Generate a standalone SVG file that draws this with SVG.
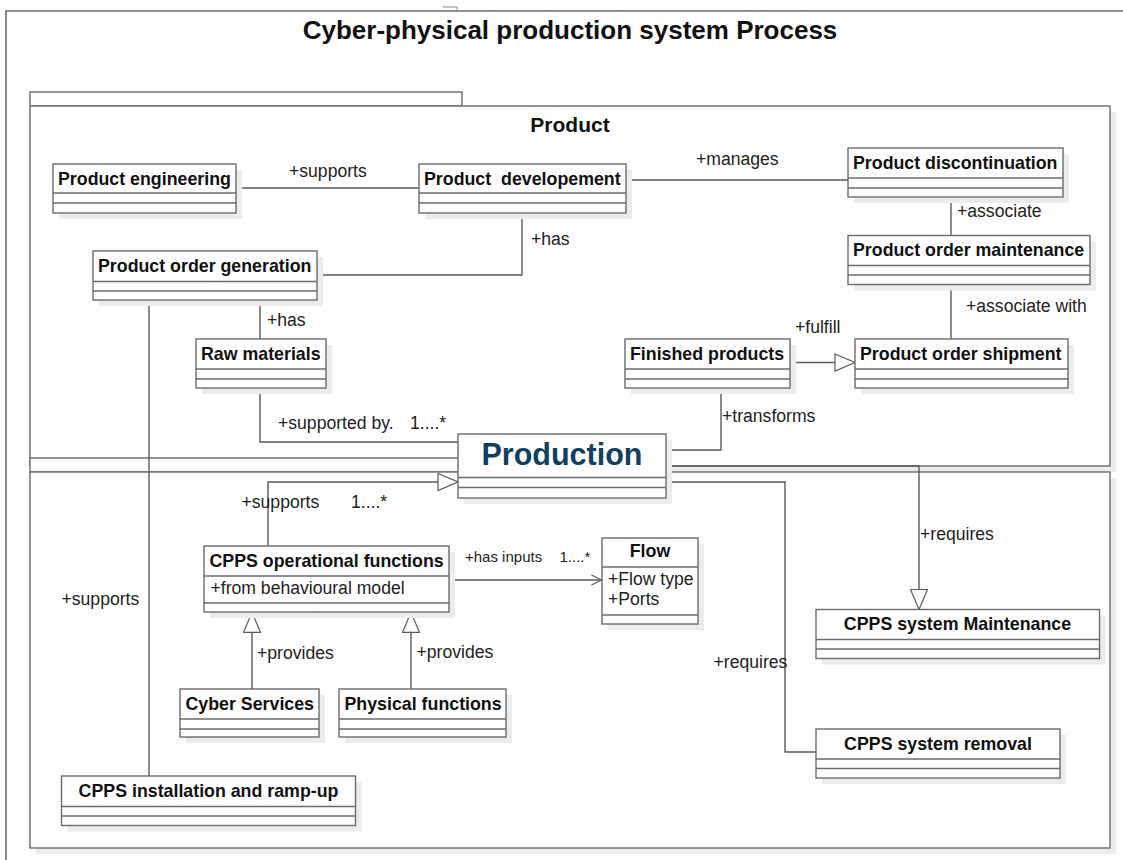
<svg xmlns="http://www.w3.org/2000/svg" width="1123" height="860" viewBox="0 0 1123 860">
<style>
.bg{fill:#fff}
.sh{fill:#ececec}
.box{fill:#fff;stroke:#6b6b6b;stroke-width:1.4}
.div{stroke:#6b6b6b;stroke-width:1.4}
.t{font-family:"Liberation Sans",Arial,sans-serif;font-weight:bold;font-size:17.8px;fill:#111}
.c{text-anchor:middle}
.lbl{font-family:"Liberation Sans",Arial,sans-serif;font-size:17.6px;fill:#222}
.sm{font-size:15px}
.con{fill:none;stroke:#5a5a5a;stroke-width:1.4}
.frame{fill:none;stroke:#6b6b6b;stroke-width:1.6}
</style>
<defs>
<marker id="tri" markerUnits="userSpaceOnUse" markerWidth="22" markerHeight="19" refX="20" refY="8.5" orient="auto" viewBox="-1 -1 22 19">
<path d="M0,0 L20,8.5 L0,17 Z" fill="#fff" stroke="#5a5a5a" stroke-width="1.2"/>
</marker>
<marker id="open" markerUnits="userSpaceOnUse" markerWidth="14" markerHeight="12" refX="11" refY="5.5" orient="auto" viewBox="-1 -1 14 13">
<path d="M0,0 L11,5.5 L0,11" fill="none" stroke="#5a5a5a" stroke-width="1.2"/>
</marker>
</defs>
<rect class="bg" x="0" y="0" width="1123" height="860"/>
<path class="frame" d="M6,860 V11 H1123"/>
<path d="M443,7 H457 V11" fill="none" stroke="#888" stroke-width="1"/>
<text class="t" x="570" y="39" text-anchor="middle" style="font-size:26px">Cyber-physical production system Process</text>

<g id="pkg-product">
<rect class="sh" x="36" y="112" width="1080" height="360"/>
<rect class="box" x="30" y="92" width="432" height="14"/>
<rect class="box" x="30" y="106" width="1080" height="360"/>
<text class="t c" x="570" y="132" style="font-size:21px">Product</text>
</g>
<g id="pkg-production">
<rect class="sh" x="36" y="478" width="1080" height="376"/>
<rect class="box" x="30" y="458" width="432" height="14"/>
<rect class="box" x="30" y="472" width="1080" height="376"/>
</g>

<g id="connectors">
<path class="con" d="M236,188 H419"/>
<path class="con" d="M626,180 H848"/>
<path class="con" d="M951,197 V235.5"/>
<path class="con" d="M951,284.5 V339"/>
<path class="con" d="M522,213 V275 H317"/>
<path class="con" d="M260,300 V339"/>
<path class="con" d="M149,300 V776"/>
<path class="con" d="M260,388 V442 H458"/>
<path class="con" d="M790,362.5 H855" marker-end="url(#tri)"/>
<path class="con" d="M666,450 H721 V388"/>
<path class="con" d="M268,546 V482 H458" marker-end="url(#tri)"/>
<path class="con" d="M449,580 H601.5" marker-end="url(#open)"/>
<path class="con" d="M252,689 V612.3" marker-end="url(#tri)"/>
<path class="con" d="M411,689 V612.3" marker-end="url(#tri)"/>
<path class="con" d="M666,466 H919 V609.5" marker-end="url(#tri)"/>
<path class="con" d="M666,482 H785 V752 H816"/>
<text class="lbl" x="289" y="177">+supports</text>
<text class="lbl" x="696" y="165">+manages</text>
<text class="lbl" x="957" y="217">+associate</text>
<text class="lbl" x="531" y="245">+has</text>
<text class="lbl" x="966" y="312">+associate with</text>
<text class="lbl" x="267" y="326">+has</text>
<text class="lbl" x="795" y="333">+fulfill</text>
<text class="lbl" x="722" y="422">+transforms</text>
<text class="lbl" x="278" y="429">+supported by.</text>
<text class="lbl" x="410" y="429">1....*</text>
<text class="lbl" x="241.5" y="508">+supports</text>
<text class="lbl" x="351" y="508">1....*</text>
<text class="lbl sm" x="465" y="562">+has inputs</text>
<text class="lbl sm" x="559.5" y="562">1....*</text>
<text class="lbl" x="920" y="540">+requires</text>
<text class="lbl" x="713.5" y="668">+requires</text>
<text class="lbl" x="257" y="659">+provides</text>
<text class="lbl" x="416.5" y="658">+provides</text>
<text class="lbl" x="61.5" y="605">+supports</text>
</g>

<g id="product-engineering">
<rect class="sh" x="59" y="170" width="183" height="49"/>
<rect class="box" x="53" y="164" width="183" height="49"/>
<path class="div" d="M53,193 H236 M53,203 H236"/>
<text class="t" x="58" y="184.5">Product engineering</text>
</g>
<g id="product-developement">
<rect class="sh" x="425" y="170" width="207" height="49"/>
<rect class="box" x="419" y="164" width="207" height="49"/>
<path class="div" d="M419,193 H626 M419,203 H626"/>
<text class="t" x="424" y="184.5" xml:space="preserve">Product  developement</text>
</g>
<g id="product-discontinuation">
<rect class="sh" x="854" y="154" width="215" height="49"/>
<rect class="box" x="848" y="148" width="215" height="49"/>
<path class="div" d="M848,178 H1063 M848,188 H1063"/>
<text class="t" x="853" y="168.5">Product discontinuation</text>
</g>
<g id="product-order-generation">
<rect class="sh" x="99" y="257" width="224" height="49"/>
<rect class="box" x="93" y="251" width="224" height="49"/>
<path class="div" d="M93,281.5 H317 M93,291 H317"/>
<text class="t" x="98" y="271.5">Product order generation</text>
</g>
<g id="product-order-maintenance">
<rect class="sh" x="854" y="241.5" width="242" height="49"/>
<rect class="box" x="848" y="235.5" width="242" height="49"/>
<path class="div" d="M848,265.5 H1090 M848,275 H1090"/>
<text class="t" x="853" y="256">Product order maintenance</text>
</g>
<g id="raw-materials">
<rect class="sh" x="202" y="345" width="130" height="49"/>
<rect class="box" x="196" y="339" width="130" height="49"/>
<path class="div" d="M196,369 H326 M196,379 H326"/>
<text class="t" x="201" y="359.5">Raw materials</text>
</g>
<g id="finished-products">
<rect class="sh" x="631" y="345" width="165" height="49"/>
<rect class="box" x="625" y="339" width="165" height="49"/>
<path class="div" d="M625,369 H790 M625,379 H790"/>
<text class="t" x="630" y="359.5">Finished products</text>
</g>
<g id="product-order-shipment">
<rect class="sh" x="861" y="345" width="213" height="49"/>
<rect class="box" x="855" y="339" width="213" height="49"/>
<path class="div" d="M855,369 H1068 M855,379 H1068"/>
<text class="t" x="860" y="359.5">Product order shipment</text>
</g>
<g id="production">
<rect class="sh" x="464" y="440" width="208" height="64"/>
<rect class="box" x="458" y="434" width="208" height="64"/>
<path class="div" d="M458,477.5 H666 M458,487.5 H666"/>
<text class="t c" x="562" y="465" style="font-size:30.5px;fill:#0f4060">Production</text>
</g>
<g id="cpps-operational-functions">
<rect class="sh" x="210" y="552" width="245" height="66"/>
<rect class="box" x="204" y="546" width="245" height="66"/>
<path class="div" d="M204,576 H449 M204,603 H449"/>
<text class="t" x="209.5" y="566.5">CPPS operational functions</text>
<text class="lbl" x="210.5" y="594">+from behavioural model</text>
</g>
<g id="flow">
<rect class="sh" x="608" y="544" width="96" height="86"/>
<rect class="box" x="602" y="538" width="96" height="86"/>
<path class="div" d="M602,567 H698 M602,615 H698"/>
<text class="t c" x="650" y="557">Flow</text>
<text class="lbl" x="608" y="585">+Flow type</text>
<text class="lbl" x="608" y="605">+Ports</text>
</g>
<g id="cyber-services">
<rect class="sh" x="186" y="695" width="139" height="48"/>
<rect class="box" x="180" y="689" width="139" height="48"/>
<path class="div" d="M180,719 H319 M180,729 H319"/>
<text class="t" x="185.5" y="709.5">Cyber Services</text>
</g>
<g id="physical-functions">
<rect class="sh" x="345" y="695" width="167" height="48"/>
<rect class="box" x="339" y="689" width="167" height="48"/>
<path class="div" d="M339,719 H506 M339,729 H506"/>
<text class="t" x="344.5" y="709.5">Physical functions</text>
</g>
<g id="cpps-installation">
<rect class="sh" x="67.5" y="782" width="294" height="49.5"/>
<rect class="box" x="61.5" y="776" width="294" height="49.5"/>
<path class="div" d="M61.5,806.5 H355.5 M61.5,816 H355.5"/>
<text class="t c" x="208.5" y="796.5">CPPS installation and ramp-up</text>
</g>
<g id="cpps-system-maintenance">
<rect class="sh" x="822" y="615.5" width="283.5" height="49"/>
<rect class="box" x="816" y="609.5" width="283.5" height="49"/>
<path class="div" d="M816,639.5 H1099.5 M816,649 H1099.5"/>
<text class="t c" x="957.5" y="630">CPPS system Maintenance</text>
</g>
<g id="cpps-system-removal">
<rect class="sh" x="822" y="735" width="244" height="49"/>
<rect class="box" x="816" y="729" width="244" height="49"/>
<path class="div" d="M816,759 H1060 M816,768.5 H1060"/>
<text class="t c" x="938" y="749.5">CPPS system removal</text>
</g>
</svg>
